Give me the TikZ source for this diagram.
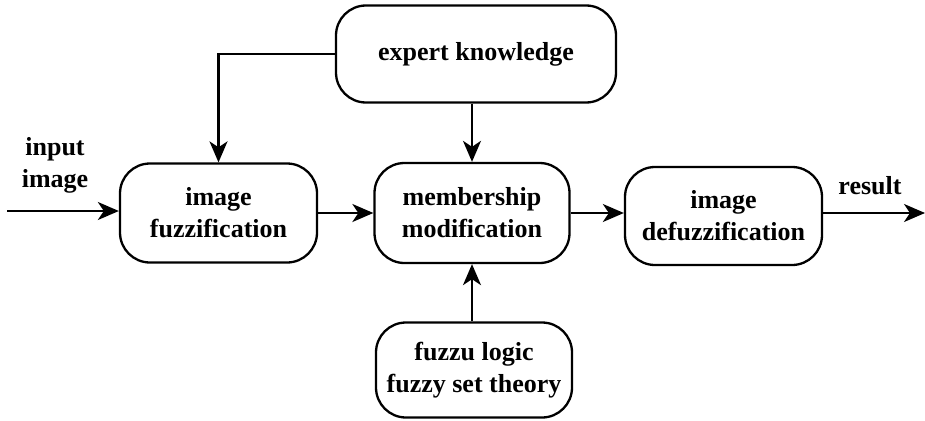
\documentclass[tikz,border=0pt]{standalone}
\usepackage{fontspec}
\setmainfont{Liberation Serif}
\usetikzlibrary{arrows.meta}
\begin{document}
\begin{tikzpicture}[x=1pt,y=-1pt,
  box/.style={draw, line width=2.3pt, rounded corners=30pt, align=center, inner sep=0pt,
    font=\fontsize{26}{32}\selectfont\bfseries},
  lbl/.style={align=center, inner sep=0pt, font=\fontsize{26}{32}\selectfont\bfseries},
  arr/.style={line width=2.2pt, -{Stealth[length=21pt,width=18pt,inset=6pt]}}]
\useasboundingbox (0,0) rectangle (925,420);
\node[box, minimum width=280pt, minimum height=97pt] (expert) at (476,54) {expert knowledge};
\node[box, minimum width=197pt, minimum height=99pt] (fuzz) at (218.5,213) {image\\fuzzification};
\node[box, minimum width=195pt, minimum height=100pt] (mem) at (472,213) {membership\\modification};
\node[box, minimum width=197pt, minimum height=98pt] (defuzz) at (723.5,216) {image\\defuzzification};
\node[box, minimum width=196pt, minimum height=95pt] (logic) at (474,370) {fuzzu logic\\fuzzy set theory};
\node[lbl] (inlbl) at (55,165) {input\\image};
\node[lbl] (reslbl) at (870,186) {result};
\coordinate (in) at (7,211);
\coordinate (out) at (925,213);
\draw[arr] (in) -- (fuzz.west |- in);
\draw[arr] (fuzz.east |- out) -- (mem.west |- out);
\draw[arr] (mem.east |- out) -- (defuzz.west |- out);
\draw[arr] (defuzz.east |- out) -- (out);
\draw[arr] (expert.west) -| (fuzz.north);
\draw[arr] (expert.south -| mem.north) -- (mem.north);
\draw[arr] (logic.north -| mem.south) -- (mem.south);
\end{tikzpicture}
\end{document}
